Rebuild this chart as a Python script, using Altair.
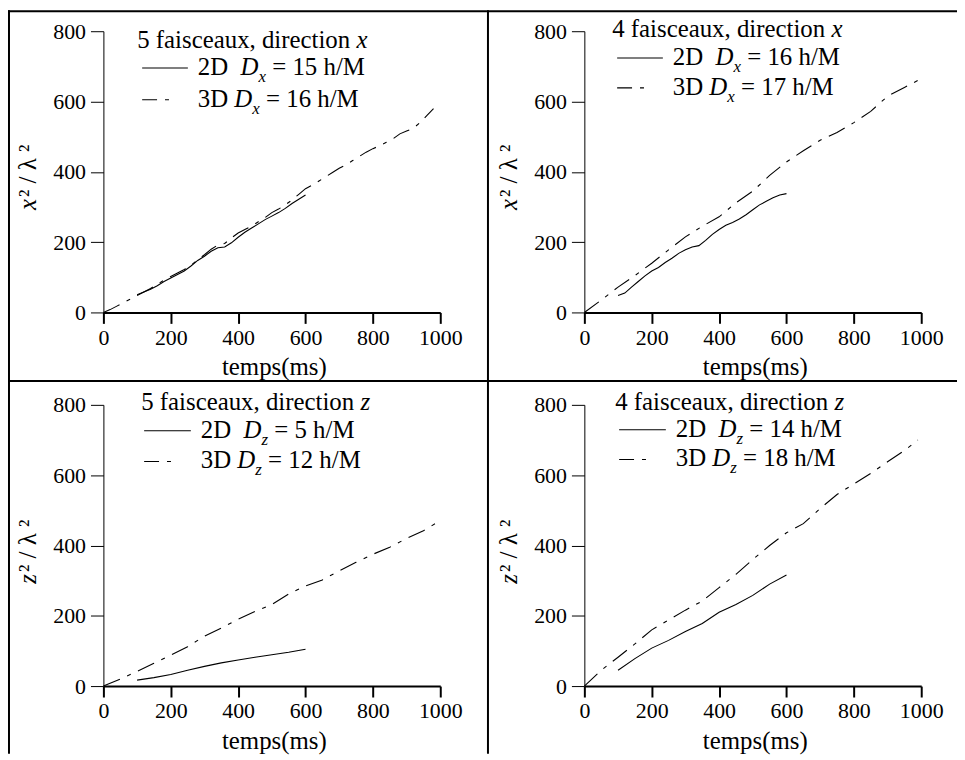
import altair as alt
import pandas as pd

FONT = "Liberation Serif"

# ---------------- data ----------------
# top-left: 5 faisceaux, direction x
TL_3D_T = [0, 20, 40, 60, 80, 100, 120, 140, 160, 180, 200, 220, 240, 260, 280, 300, 320, 340, 360, 380,
           400, 420, 440, 460, 480, 500, 520, 540, 560, 580, 600, 620, 640, 660, 680, 700, 720, 740, 760,
           780, 800, 820, 840, 860, 880, 900, 920, 940, 960, 980]
TL_3D_V = [0, 8, 18, 28, 38, 48, 58, 68, 80, 92, 102, 112, 122, 134, 150, 164, 180, 192, 196, 212,
           226, 236, 246, 258, 270, 284, 294, 306, 320, 336, 352, 362, 374, 386, 398, 410, 420, 432, 444,
           456, 466, 474, 484, 494, 508, 516, 524, 540, 560, 580]
TL_2D_T = [100, 120, 140, 160, 180, 200, 220, 240, 260, 280, 300, 320, 340, 360, 380, 400, 420, 440,
           460, 480, 500, 520, 540, 560, 580, 600]
TL_2D_V = [50, 58, 66, 76, 88, 98, 108, 118, 132, 148, 160, 174, 184, 186, 198, 214, 228, 240,
           252, 264, 274, 284, 296, 310, 322, 334]

# top-right: 4 faisceaux, direction x
TR_3D_T = [0, 50, 100, 150, 200, 250, 300, 350, 400, 450, 500, 550, 600, 650, 700, 750, 800, 850, 900, 950, 990]
TR_3D_V = [0, 35, 72, 105, 140, 178, 215, 245, 272, 312, 345, 390, 428, 460, 490, 512, 540, 572, 615, 640, 660]
TR_2D_T = [100, 120, 140, 160, 180, 200, 220, 240, 260, 280, 300, 320, 340, 360, 380, 400, 420, 440,
           460, 480, 500, 520, 540, 560, 580, 600]
TR_2D_V = [48, 55, 72, 88, 104, 118, 128, 142, 154, 168, 178, 186, 190, 205, 222, 236, 248, 256,
           266, 278, 292, 306, 316, 326, 334, 338]

# bottom-left: 5 faisceaux, direction z
BL_3D_T = [0, 50, 100, 150, 200, 250, 300, 350, 400, 450, 500, 550, 600, 650, 700, 750, 800, 850, 900, 950, 985]
BL_3D_V = [0, 20, 42, 65, 88, 112, 142, 165, 190, 212, 232, 262, 285, 302, 328, 352, 375, 395, 420, 442, 462]
BL_2D_T = [100, 150, 200, 250, 300, 350, 400, 450, 500, 550, 600]
BL_2D_V = [17, 24, 33, 45, 56, 66, 74, 82, 89, 96, 105]

# bottom-right: 4 faisceaux, direction z
BR_3D_T = [0, 50, 100, 150, 200, 250, 300, 350, 400, 450, 500, 550, 600, 650, 700, 750, 800, 850, 900, 950, 990]
BR_3D_V = [0, 45, 82, 120, 160, 188, 216, 242, 280, 318, 360, 400, 436, 462, 505, 545, 575, 605, 638, 670, 700]
BR_2D_T = [100, 150, 200, 250, 300, 350, 400, 450, 500, 550, 600]
BR_2D_V = [45, 78, 108, 130, 155, 178, 210, 232, 258, 290, 316]

X_TICKS = [0, 200, 400, 600, 800, 1000]
Y_TICKS = [0, 200, 400, 600, 800]

# ---------------- helpers ----------------
ROMAN = {' ': 250, ',': 250, '/': 278, '=': 564, 'D': 722, 'M': 889, 'a': 444, 'c': 444, 'd': 500,
         'e': 444, 'f': 333, 'h': 500, 'i': 278, 'n': 500, 'o': 500, 'r': 333, 's': 389, 't': 278,
         'u': 500, 'x': 500, 'z': 444}
ITALIC = {'x': 444, 'z': 389, 'D': 722}


def tw(s, size, italic=False):
    tab = ITALIC if italic else ROMAN
    return sum(tab.get(c, 500) for c in s) * size / 1000.0


one = pd.DataFrame({"k": [0]})


def txt(s, x, y, size, italic=False, align="left", baseline="alphabetic", angle=None):
    kw = dict(align=align, baseline=baseline, font=FONT, fontSize=size, color="black")
    if italic:
        kw["fontStyle"] = "italic"
    if angle is not None:
        kw["angle"] = angle
    return alt.Chart(one).mark_text(**kw).encode(
        x=alt.value(x), y=alt.value(y), text=alt.value(s))


def bar(x1, x2, y1, y2):
    return alt.Chart(one).mark_rect(color="black").encode(
        x=alt.value(x1), x2=alt.value(x2), y=alt.value(y1), y2=alt.value(y2))


def sample(x1, x2, y, dash=None):
    kw = dict(color="black", strokeWidth=1.1)
    if dash:
        kw["strokeDash"] = dash
    return alt.Chart(one).mark_rule(**kw).encode(
        x=alt.value(x1), x2=alt.value(x2), y=alt.value(y))


LEG = 25
SUB = 17
TICK = 22
DASH = [18, 8, 4, 8]


def legend_line(prefix, var, rest, x0, base):
    out = [txt(prefix.strip(), x0, base, LEG)]
    xd = x0 + tw(prefix, LEG)
    out.append(txt("D", xd, base, LEG, italic=True))
    xs = xd + tw("D", LEG, True)
    out.append(txt(var, xs, base + 7, SUB, italic=True))
    xr = xs + tw(var, SUB, True) + tw(" ", LEG)
    out.append(txt(rest, xr, base, LEG))
    return out


def panel(t3, v3, t2, v2, var, beams, d2, d3, lay, left_col, top_row):
    title_x, sx1, sx2, text_x, b1, b2, b3 = lay
    xs = alt.Scale(domain=[0, 1000], nice=False)
    ys = alt.Scale(domain=[0, 800], nice=False)
    xax = alt.Axis(values=X_TICKS, format="d", title=None, grid=False, tickSize=11, tickWidth=2,
                   tickColor="black", domainWidth=2, domainColor="black", labelFont=FONT,
                   labelFontSize=TICK, labelColor="black", labelPadding=4, labelFlush=False,
                   labelOverlap=False)
    yax = alt.Axis(values=Y_TICKS, format="d", title=None, grid=False, tickSize=13, tickWidth=1,
                   tickColor="black", domainWidth=1, domainColor="black", labelFont=FONT,
                   labelFontSize=TICK, labelColor="black", labelPadding=5, labelFlush=False,
                   labelOverlap=False)
    df3 = pd.DataFrame({"t": t3, "v": v3})
    df2 = pd.DataFrame({"t": t2, "v": v2})
    l3 = alt.Chart(df3).mark_line(color="black", strokeWidth=1.1, strokeDash=DASH).encode(
        x=alt.X("t:Q", scale=xs, axis=xax), y=alt.Y("v:Q", scale=ys, axis=yax))
    l2 = alt.Chart(df2).mark_line(color="black", strokeWidth=1.1).encode(
        x=alt.X("t:Q", scale=xs, axis=xax), y=alt.Y("v:Q", scale=ys, axis=yax))

    xl = -96 if left_col else -98
    xr = 386 if left_col else 375
    yt = -21 if top_row else -25
    yb = 351
    layers = [l3, l2,
              bar(xl, xl + 2, yt, yb),
              bar(xl, xr, yt, yt + 2)]

    # title line
    head = f"{beams} faisceaux, direction"
    layers.append(txt(head, title_x, b1, LEG))
    layers.append(txt(var, title_x + tw(head + " ", LEG), b1, LEG, italic=True))
    # legend entries
    layers.append(sample(sx1, sx2, b2 - 7))
    layers.append(sample(sx1, sx1 + 34, b3 - 7, dash=[15, 8, 4, 8]))
    layers += legend_line("2D  ", var, f"= {d2} h/M", text_x, b2)
    layers += legend_line("3D ", var, f"= {d3} h/M", text_x, b3)

    # y title  (x² / λ²) rotated
    layers.append(txt(var, -76, 180, 25, italic=True, baseline="middle", angle=270))
    layers.append(txt("² / λ ²", -76, 180 - tw(var, 25, True) - 2, 25, baseline="middle", angle=270))
    # x title
    layers.append(txt("temps(ms)", 172, 346, 25, align="center"))

    return alt.layer(*layers).properties(width=339, height=283)


LAY_TL = (34, 39, 85, 95, 17, 44, 76)
LAY_TR = (28, 33, 79, 89, 6, 34, 64)
LAY_BL = (38, 41, 88, 98, 5, 33, 64)
LAY_BR = (31, 35, 82, 92, 5, 32, 62)

p1 = panel(TL_3D_T, TL_3D_V, TL_2D_T, TL_2D_V, "x", 5, 15, 16, LAY_TL, True, True)
p2 = panel(TR_3D_T, TR_3D_V, TR_2D_T, TR_2D_V, "x", 4, 16, 17, LAY_TR, False, True)
p3 = panel(BL_3D_T, BL_3D_V, BL_2D_T, BL_2D_V, "z", 5, 5, 12, LAY_BL, True, False)
p4 = panel(BR_3D_T, BR_3D_V, BR_2D_T, BR_2D_V, "z", 4, 14, 18, LAY_BR, False, False)

chart = alt.concat(p1, p2, p3, p4, columns=2, spacing=0, align="each").properties(
    padding=0
).configure_view(strokeWidth=0)

chart.save("out.html", embed_options={"renderer": "svg", "actions": False})
